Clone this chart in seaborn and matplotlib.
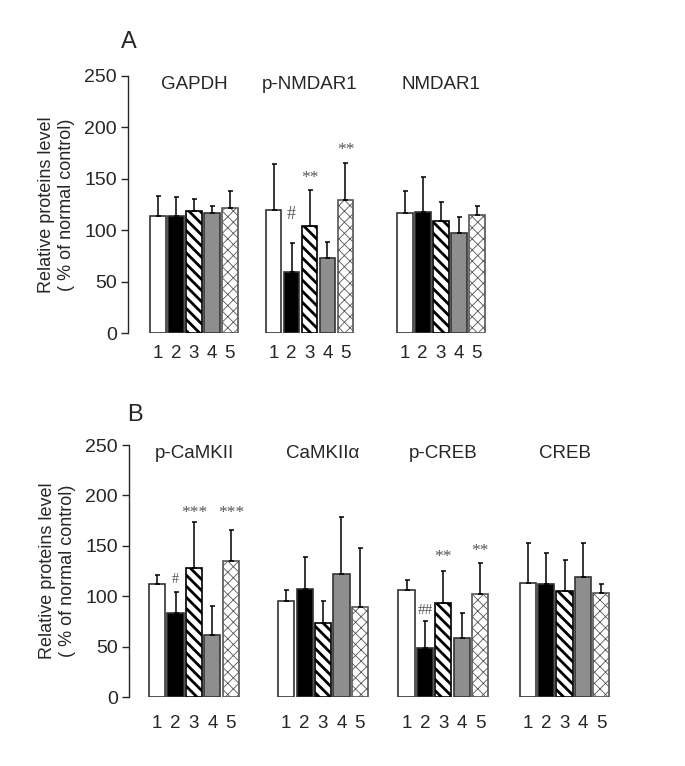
import matplotlib
matplotlib.use("Agg")
import numpy as np
import pandas as pd
import seaborn as sns
import matplotlib.pyplot as plt

sns.set_style("ticks")
plt.rcParams['font.family'] = ['Liberation Sans', 'DejaVu Sans']

# Panel A: proteins and values (% of normal control), lanes 1-5
proteins_a = ["GAPDH", "p-NMDAR1", "NMDAR1"]
gapdh_mean = [114, 114, 119, 117, 122]
gapdh_sd = [19, 18, 11, 7, 16]
pnmdar1_mean = [120, 59, 104, 73, 129]
pnmdar1_sd = [44, 29, 35, 16, 36]
nmdar1_mean = [117, 118, 109, 97, 115]
nmdar1_sd = [21, 34, 18, 16, 9]

# Panel B
proteins_b = ["p-CaMKII", "CaMKIIα", "p-CREB", "CREB"]
pcamkii_mean = [112, 83, 128, 62, 135]
pcamkii_sd = [9, 21, 46, 28, 31]
camkiia_mean = [95, 107, 73, 122, 89]
camkiia_sd = [11, 32, 22, 57, 59]
pcreb_mean = [106, 49, 93, 59, 102]
pcreb_sd = [10, 26, 32, 24, 31]
creb_mean = [113, 112, 105, 119, 103]
creb_sd = [40, 31, 31, 34, 9]

lanes = [1, 2, 3, 4, 5]

# significance marks: (group index, lane, text, y, fontsize)
marks_a = [(1, 2, "#", 115, 13), (1, 3, "**", 151, 12.5), (1, 5, "**", 178, 12.5)]
marks_b = [(0, 2, "#", 117, 10), (0, 3, "***", 183, 12.5), (0, 5, "***", 183, 12.5),
           (2, 2, "##", 86, 11), (2, 3, "**", 139, 12.5), (2, 5, "**", 145, 12.5)]

fill = {1: "white", 2: "black", 3: "white", 4: "#8e8e8e", 5: "white"}


def draw_panel(ax, names, means, sds, starts, marks, xmax, xpad):
    rows = []
    for name, m, s, start in zip(names, means, sds, starts):
        for i, lane in enumerate(lanes):
            rows.append(dict(protein=name, lane=lane, value=m[i], sd=s[i], pos=start + i))
    df = pd.DataFrame(rows).sort_values("pos").reset_index(drop=True)

    sns.barplot(data=df, x="pos", y="value", native_scale=True, width=0.88,
                color="white", errorbar=None, ax=ax, edgecolor="#333333", linewidth=1.2)

    patches = sorted(ax.patches, key=lambda p: p.get_x())
    for patch, lane in zip(patches, df["lane"]):
        patch.set_facecolor(fill[lane])
        patch.set_edgecolor("#333333")
        if lane == 3:
            patch.set_hatch("\\\\\\")
            patch.set_edgecolor("black")
            if hasattr(patch, "set_hatch_linewidth"):
                patch.set_hatch_linewidth(2.0)
        elif lane == 5:
            patch.set_hatch("xxx")
            patch.set_edgecolor("#555555")
            if hasattr(patch, "set_hatch_linewidth"):
                patch.set_hatch_linewidth(0.6)

    ax.errorbar(df["pos"], df["value"], yerr=[np.zeros(len(df)), df["sd"]],
                fmt="none", ecolor="black", elinewidth=1.1, capsize=1.8, capthick=1.1, zorder=3)

    for name, start in zip(names, starts):
        ax.text(start + 2, 242, name, ha="center", va="center", fontsize=13.5)

    for g, lane, txt, y, fs in marks:
        ax.text(starts[g] + lane - 1, y, txt, ha="center", va="center", fontsize=fs,
                color="#555555", family="Liberation Serif")

    ax.set_xticks(df["pos"], labels=df["lane"])
    ax.tick_params(axis="x", length=0, pad=xpad, labelsize=13.5)
    ax.tick_params(axis="y", length=5, width=1, pad=3, labelsize=14)
    ax.set_xlim(0, xmax)
    ax.set_ylim(0, 250)
    ax.set_yticks([0, 50, 100, 150, 200, 250])
    ax.set_xlabel("")
    ax.set_ylabel("Relative proteins level\n( % of normal control)", fontsize=13, labelpad=7)
    sns.despine(ax=ax, bottom=True)
    ax.spines["left"].set_linewidth(1)


fig = plt.figure(figsize=(6.85, 7.66), dpi=100)
ax_a = fig.add_axes([128 / 685, 1 - 333 / 766, 372 / 685, 257 / 766])
ax_b = fig.add_axes([129 / 685, 1 - 697 / 766, 497 / 685, 252 / 766])

draw_panel(ax_a, proteins_a, [gapdh_mean, pnmdar1_mean, nmdar1_mean],
           [gapdh_sd, pnmdar1_sd, nmdar1_sd], [1.67, 8.1, 15.4], marks_a, 20.7, 9)
draw_panel(ax_b, proteins_b, [pcamkii_mean, camkiia_mean, pcreb_mean, creb_mean],
           [pcamkii_sd, camkiia_sd, pcreb_sd, creb_sd], [1.53, 8.54, 15.08, 21.66], marks_b, 27, 13)

fig.text(129 / 685, 1 - 42 / 766, "A", ha="center", va="center", fontsize=17)
fig.text(135 / 685, 1 - 415 / 766, "B", ha="center", va="center", fontsize=17)

fig.savefig("out.png", dpi=100)
